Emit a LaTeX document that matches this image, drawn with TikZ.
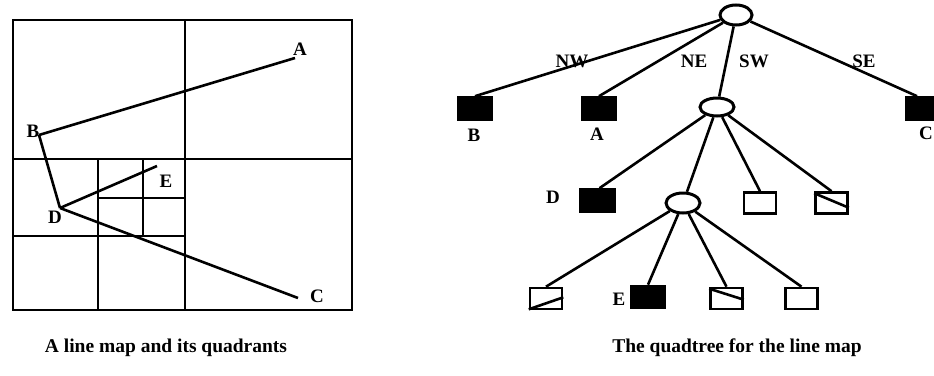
\documentclass[tikz,border=0pt]{standalone}
\usepackage{fontspec}
\setmainfont{Liberation Serif}
\usetikzlibrary{calc,shapes.geometric}
\begin{document}
\begin{tikzpicture}[x=1pt,y=-1pt,line width=2.6pt,
  lab/.style={font=\bfseries\fontsize{19}{19}\selectfont,inner sep=0pt},
  captxt/.style={font=\bfseries\fontsize{19.5}{20}\selectfont,inner sep=0pt},
  ovalnode/.style={draw,ellipse,line width=3pt,minimum width=30pt,minimum height=18pt,inner sep=0pt},
  fullbox/.style={draw,fill=black,minimum width=34pt,minimum height=22pt,inner sep=0pt},
  emptybox/.style={draw,fill=white,minimum width=32pt,minimum height=21pt,inner sep=0pt}]
\useasboundingbox (0,0) rectangle (934,375);
% ---- line map ----
\draw (13,20) rectangle (352,310);
\draw (185,20) -- (185,310);
\draw (13,159) -- (352,159);
\draw (98,159) -- (98,310);
\draw (13,236) -- (185,236);
\draw (143,159) -- (143,236);
\draw (98,198) -- (185,198);
\coordinate (pA) at (295,58);
\coordinate (pB) at (39,135);
\coordinate (pD) at (60,208);
\coordinate (pE) at (157,166);
\coordinate (pC) at (298,298);
\draw (pB) -- (pA);
\draw (pB) -- (pD);
\draw (pD) -- (pE);
\draw (pD) -- (pC);
\node[lab] (lA) at (300,49) {A};
\node[lab] (lB) at (33,131) {B};
\node[lab] (lE) at (166,181) {E};
\node[lab] (lD) at (55,217) {D};
\node[lab] (lC) at (317,296) {C};
\node[captxt] (cap1) at (166,348) {A line map and its quadrants};
% ---- quadtree ----
\node[ovalnode,minimum width=32pt,minimum height=20pt] (root) at (736,15) {};
\node[fullbox] (nB) at (475,108.5) {};
\node[fullbox] (nA) at (599,108.5) {};
\node[ovalnode,minimum width=34pt,minimum height=18pt] (n2) at (717,107) {};
\node[fullbox] (nC) at (923,108.5) {};
\node[lab] (tB) at (474,135) {B};
\node[lab] (tA) at (597,134) {A};
\node[lab] (tC) at (926,133) {C};
\draw (root) -- (nB.north);
\draw (root) -- (nA.north);
\draw (root) -- (n2);
\draw (root) -- ([xshift=-6pt]nC.north);
\node[lab] (eNW) at (572,61) {NW};
\node[lab] (eNE) at (694,61) {NE};
\node[lab] (eSW) at (754,61) {SW};
\node[lab] (eSE) at (864,61) {SE};
% level 2
\node[fullbox] (nD) at (597.5,200.5) {};
\node[lab] (tD) at (553,197) {D};
\node[ovalnode,minimum width=34pt,minimum height=20pt] (n3) at (683,203) {};
\node[emptybox] (m1) at (760,203) {};
\node[emptybox] (m2) at (831.5,203) {};
\draw ($(m2.north west)+(0,2)$) -- ($(m2.south east)!0.3!(m2.north east)$);
\draw (n2) -- ([xshift=2pt]nD.north);
\draw (n2) -- (n3);
\draw (n2) -- (m1.north);
\draw (n2) -- (m2.north);
% level 3
\node[emptybox] (b1) at (546,298.5) {};
\draw ($(b1.south west)+(0,-1)$) -- ($(b1.north east)!0.45!(b1.south east)$);
\node[fullbox] (nE) at (648,297) {};
\node[lab] (tE) at (619,299) {E};
\node[emptybox] (b3) at (726.5,298.5) {};
\draw ($(b3.north west)+(0,2)$) -- ($(b3.north east)!0.55!(b3.south east)$);
\node[emptybox] (b4) at (801.5,298.5) {};
\draw (n3) -- (b1.north);
\draw (n3) -- (nE.north);
\draw (n3) -- (b3.north);
\draw (n3) -- (b4.north);
\node[captxt] (cap2) at (737,348) {The quadtree for the line map};
\end{tikzpicture}
\end{document}
